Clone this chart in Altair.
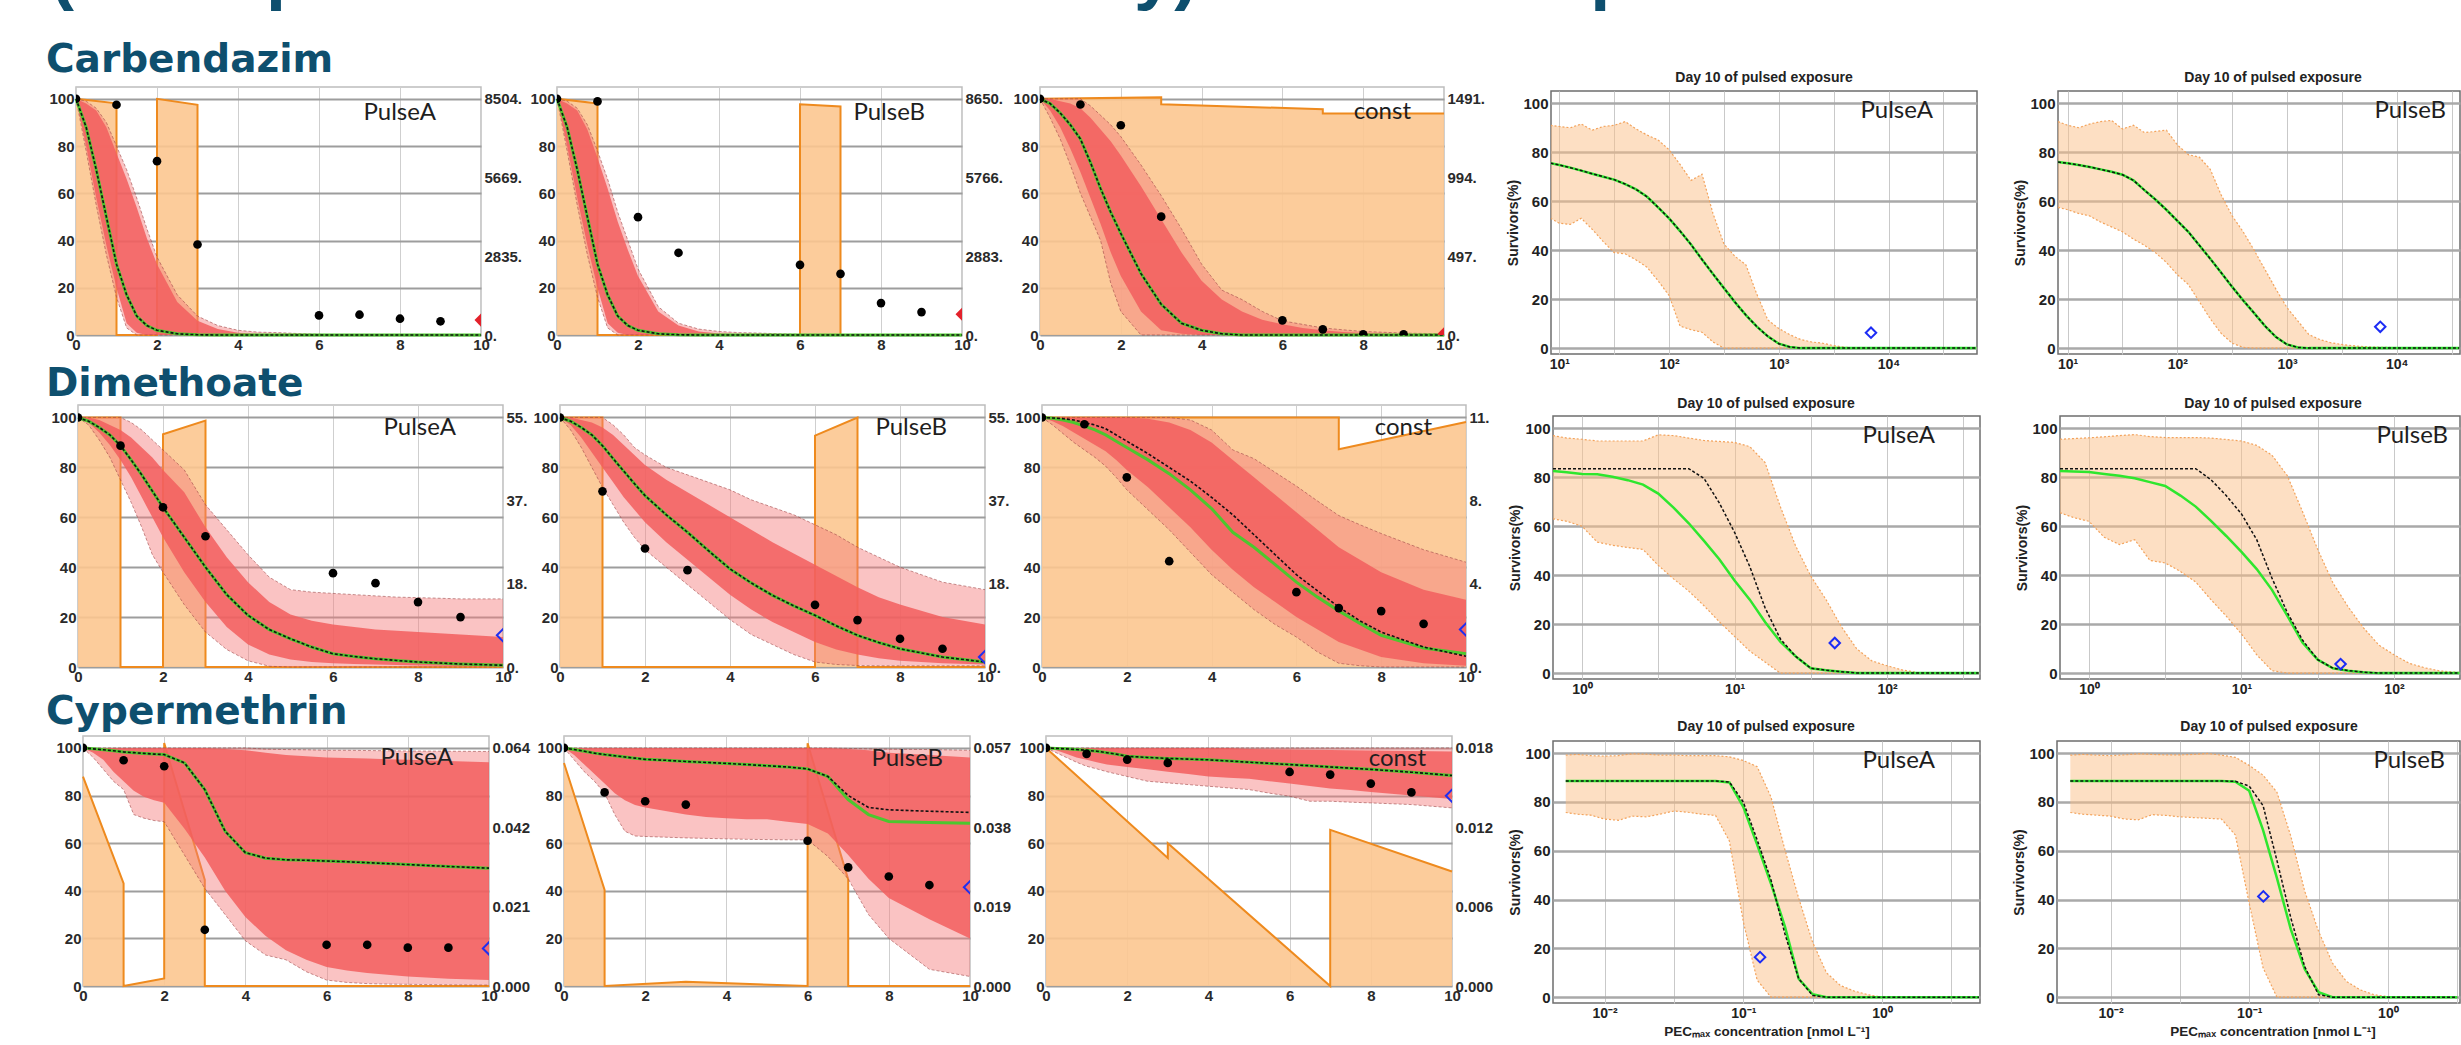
import altair as alt
import pandas as pd

# ----------------------------------------------------------------- texts
TITLE_TEXT = "(Example of TKTD model toxicity) with the exposure"
ROW_NAMES = ["Carbendazim", "Dimethoate", "Cypermethrin"]
DOSE_TITLE = "Day 10 of pulsed exposure"
SURV_TITLE = "Survivors(%)"
CONC_TITLE = "PECₘₐₓ concentration [nmol L⁻¹]"

# ----------------------------------------------------------------- time-course data
T = [0, 0.25, 0.5, 0.75, 1, 1.25, 1.5, 1.75, 2, 2.5, 3, 3.5, 4, 4.5, 5, 5.5, 6, 6.5, 7, 7.5, 8, 9, 10]
OBS_T = [0, 1, 2, 3, 6, 7, 8, 9]
X_TICKS = [0, 2, 4, 6, 8, 10]
Y_TICKS = [0, 20, 40, 60, 80, 100]

# Carbendazim PulseA
carbA_med = [100, 88, 70, 50, 30, 17, 8, 4, 2, 0.5, 0.1] + [0] * 12
carbA_lo_out = [100, 78, 55, 34, 16, 3] + [0] * 17
carbA_hi_out = [100, 99, 96, 90, 80, 70, 58, 45, 33, 17, 8, 4, 2, 1.2, 1, 0.6, 0.3, 0.1] + [0] * 5
carbA_lo_in = [100, 80, 58, 38, 20, 5, 1] + [0] * 16
carbA_hi_in = [100, 98, 95, 88, 77, 66, 54, 41, 30, 14, 6, 2.5, 1, 0.4] + [0] * 9
carbA_obs = [100, 97.5, 73.6, 38.3, 8.3, 8.6, 6.9, 5.8]
carbA_day10 = 6.3
carbA_exp_t = [0, 1, 1, 2, 2, 3, 3, 10]
carbA_exp_v = [8504, 8340, 0, 0, 8504, 8290, 0, 0]
carbA_exp_ticks = ["0.", "2835.", "5669.", "8504."]

# Carbendazim PulseB
carbB_med = [100, 88, 70, 50, 30, 17, 8, 4, 2, 0.5, 0.1] + [0] * 12
carbB_lo_out = [100, 78, 55, 34, 16, 3] + [0] * 17
carbB_hi_out = [100, 99, 96, 89, 78, 66, 52, 40, 28, 12, 5, 2.5, 1.5, 1, 0.8, 0.5, 0.3, 0.25, 0.2, 0.1] + [0] * 3
carbB_lo_in = [100, 80, 58, 38, 20, 5, 1] + [0] * 16
carbB_hi_in = [100, 98, 95, 87, 75, 62, 48, 36, 25, 10, 4, 1.5, 0.6, 0.3] + [0] * 9
carbB_obs = [100, 98.9, 49.9, 34.8, 29.7, 25.9, 13.5, 9.7]
carbB_day10 = 8.8
carbB_exp_t = [0, 1, 1, 6, 6, 7, 7, 10]
carbB_exp_v = [8650, 8480, 0, 0, 8450, 8370, 0, 0]
carbB_exp_ticks = ["0.", "2883.", "5766.", "8650."]

# Carbendazim const
carbC_med = [100, 98, 94, 89, 83, 73, 62, 52, 43, 26, 13, 5, 2, 0.5] + [0] * 9
carbC_lo_out = [100, 92, 83, 72, 60, 50, 40, 22, 10] + [0] * 14
carbC_hi_out = [100, 100, 100, 100, 100, 97, 93, 89, 84, 72, 59, 45, 30, 19, 15, 10, 6, 4.5, 3, 2.2, 1.5, 0.8, 0.5]
carbC_lo_in = [100, 95, 88, 79, 69, 58, 47, 35, 25, 10, 2, 0.5] + [0] * 11
carbC_hi_in = [100, 100, 99, 98, 96, 92, 87, 82, 76, 63, 49, 35, 23, 15, 10, 6.5, 4.5, 3, 2, 1.3, 0.8, 0.3, 0.1]
carbC_obs = [100, 97.6, 88.8, 50.1, 6.2, 2.4, 0.3, 0.3]
carbC_day10 = 0.5
carbC_exp_t = [0, 3, 3, 7, 7, 10]
carbC_exp_v = [1491, 1500, 1457, 1425, 1399, 1399]
carbC_exp_ticks = ["0.", "497.", "994.", "1491."]

# Dimethoate PulseA
dimA_med = [100, 98.5, 96, 93, 88.7, 83, 77, 70.5, 64, 52, 40, 29, 20.7, 15, 11.3, 8, 5.3, 4.2, 3.3, 2.6, 2, 1.2, 0.7]
dimA_lo_out = [100, 97, 91, 84, 75, 66, 56, 45, 38, 25, 14, 7, 2.5, 0.3] + [0] * 9
dimA_hi_out = [100, 100, 100, 100, 100, 98, 95, 91, 87, 79, 65, 55, 45, 36, 31, 30, 29.5, 29, 28.5, 28, 27.8, 27.3, 27.3]
dimA_lo_in = [100, 98, 94, 89, 83, 76, 68, 60, 52, 38, 26, 16, 9, 5, 3, 2, 1.5, 1.2, 1, 0.8, 0.6, 0.4, 0.3]
dimA_hi_in = [100, 100, 99, 97, 95, 92, 88, 84, 79, 70, 56, 44, 34, 26, 21, 18.5, 17, 16, 15, 14.5, 14, 13, 12]
dimA_obs = [100, 88.7, 64, 52.4, 37.6, 33.6, 26, 20]
dimA_day10 = 12.7
dimA_exp_t = [0, 1, 1, 2, 2, 3, 3, 10]
dimA_exp_v = [55, 55, 0, 0, 51.3, 54.3, 0, 0]
dimA_exp_ticks = ["0.", "18.", "37.", "55."]

# Dimethoate PulseB
dimB_med = [100, 98.5, 96, 93, 88.7, 83.5, 78.5, 73.5, 68.7, 61, 54, 46.5, 39.3, 33.7, 28.7, 24.5, 20.7, 16.5, 12.7, 9.8, 7.3, 4, 2]
dimB_lo_out = [100, 95, 88, 80, 72, 65, 58, 52, 47, 40, 33, 26, 19, 13, 9, 5, 2, 1, 0.6, 0.5, 0.5, 0.5, 0.5]
dimB_hi_out = [100, 100, 100, 100, 100, 97, 93, 88, 85, 80, 77, 74, 71, 67, 64, 61, 57, 53, 48, 44, 40, 34, 31]
dimB_lo_in = [100, 97, 92, 86, 80, 74, 68, 63, 58, 50, 43, 36, 29, 23, 18, 14, 10, 7, 5, 3.5, 2.5, 1.5, 1]
dimB_hi_in = [100, 100, 99, 98, 96, 93, 89, 85, 81, 75, 70, 65, 60, 55, 50, 45.5, 41, 36.5, 32, 28, 25, 20, 17]
dimB_obs = [100, 70.4, 47.5, 38.8, 24.9, 18.8, 11.3, 7.3]
dimB_day10 = 4
dimB_exp_t = [0, 1, 1, 6, 6, 7, 7, 10]
dimB_exp_v = [55, 55, 0, 0, 51, 55, 0, 0]
dimB_exp_ticks = ["0.", "18.", "37.", "55."]

# Dimethoate const
dimC_med = [100, 99.7, 99, 98, 96.5, 95, 93, 90.5, 88, 83, 77.5, 71, 63.5, 54, 48, 41, 34, 28, 22.5, 17.5, 12.7, 7.6, 5.3]
dimC_dash = [100, 99.8, 99.5, 99, 98, 97, 95.5, 93, 90.5, 85.5, 80, 74.5, 68, 61, 53, 45, 37, 30.5, 24, 18.5, 14, 8, 4.3]
dimC_lo_out = [100, 97, 93.5, 90, 87, 84, 80.5, 76, 71, 63, 55, 46, 37, 30, 23, 17, 12, 6, 1.5, 0.5, 0, 0, 0]
dimC_hi_out = [100, 100, 100, 100, 100, 100, 100, 100, 100, 100, 100, 99, 95, 87, 83.5, 78, 72.5, 66.5, 60.7, 57, 53.5, 47, 42]
dimC_lo_in = [100, 98.5, 96.5, 94, 91.5, 89, 86.5, 83, 79, 72, 64, 56, 47, 39, 32, 26, 20, 15, 10, 7, 4, 1.5, 0.5]
dimC_hi_in = [100, 100, 100, 100, 100, 100, 100, 100, 100, 99.5, 98, 95, 90, 83, 76, 69, 62, 55, 48, 43, 38, 31, 27]
dimC_obs = [100, 97.3, 76, 42.4, 30, 23.6, 22.4, 17.3]
dimC_day10 = 15
dimC_exp_t = [0, 7, 7, 10]
dimC_exp_v = [11, 11, 9.6, 10.8]
dimC_exp_ticks = ["0.", "4.", "8.", "11."]

# Cypermethrin PulseA
cypA_med = [100, 99.6, 99.2, 98.8, 98.3, 98, 97.7, 97.4, 97.2, 93.7, 82.5, 65, 56, 53.7, 53, 52.8, 52.5, 52.2, 51.8, 51.4, 51, 50.2, 49.5]
cypA_lo_out = [100, 96, 91, 86, 82.5, 72, 70.5, 69.5, 69, 55, 41, 30, 19, 13, 11, 6, 2.5, 1.5, 1, 0.8, 0.7, 0.5, 0.4]
cypA_hi_out = [100] * 13 + [99.5, 99.3, 99.2, 99, 99, 98.9, 98.8, 98.7, 98.6, 98.5]
cypA_lo_in = [100, 98, 95, 90, 86, 82, 79.5, 78, 77, 66, 54, 40, 29, 21, 15, 11, 8, 6.5, 5.5, 4.7, 4, 3, 2.5]
cypA_hi_in = [100] * 11 + [99.5, 99, 98, 97, 96.5, 96, 95.8, 95.5, 95.2, 95, 94.5, 94]
cypA_obs = [100, 94.8, 92.3, 23.6, 17.3, 17.3, 16.1, 16.1]
cypA_day10 = 15.8
cypA_exp_t = [0, 1, 1, 2, 2, 3, 3, 10]
cypA_exp_v = [0.0563, 0.0276, 0, 0.00205, 0.0653, 0.0285, 0, 0]
cypA_exp_ticks = ["0.000", "0.021", "0.042", "0.064"]

# Cypermethrin PulseB
cypB_med = [100, 99.3, 98.6, 97.8, 97.2, 96.7, 96.2, 95.7, 95.2, 94.8, 94.3, 93.9, 93.5, 93, 92.5, 92, 91.2, 88, 78.3, 72, 69.1, 68.7, 68.4]
cypB_dash = [100, 99.3, 98.6, 97.8, 97.2, 96.7, 96.2, 95.7, 95.2, 94.8, 94.3, 93.9, 93.5, 93, 92.5, 92, 91.2, 88, 80, 75, 74, 73.4, 72.9]
cypB_lo_out = [100, 95, 90, 86, 81, 72, 65, 63, 62.8, 62.5, 62.2, 62, 61.8, 61.6, 61.5, 61.4, 61.4, 54.4, 45, 30, 20, 7, 4]
cypB_hi_out = [100] * 18 + [99.8, 99.6, 99.5, 99.3, 99]
cypB_lo_in = [100, 97, 93, 89, 85, 81, 78, 76, 75, 73.5, 72, 71, 70.5, 70, 70, 69, 68, 64, 55, 45, 37, 28, 20]
cypB_hi_in = [100] * 18 + [99.5, 99, 98, 97, 96]
cypB_obs = [100, 81.3, 77.6, 76.2, 61, 49.8, 46, 42.4]
cypB_day10 = 41.5
cypB_exp_t = [0, 1, 1, 3, 6, 6, 7, 7, 10]
cypB_exp_v = [0.0534, 0.0230, 0, 0.001, 0, 0.0581, 0.0255, 0, 0]
cypB_exp_ticks = ["0.000", "0.019", "0.038", "0.057"]

# Cypermethrin const
cypC_med = [100, 99.8, 99.6, 99.3, 99, 98.6, 98, 97.3, 96.5, 96, 95.6, 95.3, 95, 94.5, 94, 93.5, 93, 92.5, 92, 91.5, 91, 89.8, 88.4]
cypC_lo_out = [100, 98, 96, 94, 92.3, 91.2, 90, 89, 88, 86, 85.3, 84.6, 83.9, 83.2, 82.5, 81, 79.7, 77.6, 77.6, 77.2, 76.9, 76.2, 74.8]
cypC_hi_out = [100] * 23
cypC_lo_in = [100, 99, 97.5, 96, 95, 94, 93, 92.5, 92, 91, 90, 89, 88, 87.5, 87, 86, 85, 84, 83, 82.3, 81.5, 80, 78.5]
cypC_hi_in = [100] * 14 + [99.5, 99.4, 99.3, 99.2, 99.1, 99, 98.9, 98.7, 98.5]
cypC_obs = [100, 97.5, 95.1, 93.7, 89.9, 88.8, 85, 81.3]
cypC_day10 = 79.9
cypC_exp_t = [0, 3, 3, 7, 7, 10]
cypC_exp_v = [0.018, 0.00967, 0.0108, 0, 0.0118, 0.00866]
cypC_exp_ticks = ["0.000", "0.006", "0.012", "0.018"]

# ----------------------------------------------------------------- dose-response data (log10 concentration)
carbDA_lg = [0.92, 1.0, 1.1, 1.2, 1.3, 1.4, 1.5, 1.6, 1.7, 1.8, 1.9, 2.0, 2.1, 2.2, 2.3, 2.4, 2.5, 2.6, 2.7, 2.8,
             2.9, 3.0, 3.1, 3.2, 3.3, 3.4, 3.5, 3.6, 3.7, 3.8, 4.0, 4.2, 4.4, 4.6, 4.8]
carbDA_med = [75.5, 74.8, 73.7, 72.5, 71.2, 70, 68.8, 67, 64.8, 61.8, 57.5, 53, 47.8, 42.3, 36.2, 30.3, 24.5, 18.8,
              13.5, 8.8, 4.8, 1.8, 0.5] + [0] * 12
carbDA_hi = [91, 90.5, 90, 91.5, 89, 90.5, 91, 92.5, 89.5, 87, 85, 81, 75, 68.5, 71, 55, 42.5, 37.5, 34, 22,
             11.5, 8, 5.5, 3.5, 2.5, 2, 1, 0.4] + [0] * 7
carbDA_lo = [53, 51, 50.5, 53, 48.5, 43.5, 39, 38.5, 36, 33, 27.5, 21.5, 9, 7.5, 6.5, 2.5] + [0] * 19
carbDA_obs = (3.84, 6.3)

carbDB_lg = [0.912, 1.0, 1.1, 1.2, 1.3, 1.4, 1.5, 1.6, 1.7, 1.8, 1.9, 2.0, 2.1, 2.2, 2.3, 2.4, 2.5, 2.6, 2.7, 2.8,
             2.9, 3.0, 3.1, 3.2, 3.3, 3.4, 3.5, 3.6, 3.7, 3.8, 4.0, 4.2, 4.4, 4.57]
carbDB_med = [76, 75.5, 74.8, 74, 73, 72, 70.8, 68.5, 64.5, 60.7, 56.5, 52, 47.5, 42, 36.5, 30.8, 25, 19.5, 14.3,
              9, 4.5, 1.5, 0.3] + [0] * 11
carbDB_hi = [92.5, 91, 90, 91.5, 92.5, 93, 89.5, 91, 88, 88.5, 89, 83, 79, 78, 73, 62.5, 54, 47.5, 40, 32,
             24, 16.5, 11, 5.5, 3.5, 2.2, 1.5, 1, 0.6, 0.4, 0.2, 0, 0, 0]
carbDB_lo = [57.5, 56.5, 55, 54, 51.5, 49.5, 47.5, 44.5, 42, 39, 35, 30, 26, 19, 12, 6, 2, 0.3] + [0] * 16
carbDB_obs = (3.85, 8.7)

dimDA_lg = [-0.19, -0.1, 0.0, 0.1, 0.2, 0.3, 0.4, 0.5, 0.6, 0.7, 0.8, 0.9, 1.0, 1.1, 1.2, 1.3, 1.4, 1.5, 1.6, 1.7,
            1.8, 1.9, 2.0, 2.1, 2.2, 2.3, 2.4, 2.5, 2.6]
dimDA_med = [82.5, 82, 81.3, 81.2, 80.2, 78.8, 77, 73.3, 67.6, 61.2, 54, 46.5, 37.8, 30, 20.9, 12.8, 6.9, 2, 1.2,
             0.6, 0.1] + [0] * 8
dimDA_dash = [83.5] * 10 + [79.5, 69.5, 57.5, 43.5, 26.7, 14, 6.9, 2, 1.2, 0.6, 0.1] + [0] * 8
dimDA_hi = [97, 96, 95.5, 94.8, 94.8, 94.8, 94.8, 97.3, 97, 96, 95, 94.6, 94.2, 92.5, 86, 68, 52, 39.6, 30, 19,
            10, 5, 3, 1.3, 0.2, 0, 0, 0, 0]
dimDA_lo = [63, 62, 60, 53.5, 52.2, 51.3, 50.5, 44, 38.5, 33.5, 27.5, 21, 15, 9, 4.5] + [0] * 14
dimDA_obs = (1.657, 12.3)

dimDB_lg = [-0.19, -0.1, 0.0, 0.1, 0.2, 0.3, 0.4, 0.5, 0.6, 0.7, 0.8, 0.9, 1.0, 1.1, 1.2, 1.3, 1.4, 1.5, 1.6, 1.7,
            1.8, 1.9, 2.0, 2.1, 2.2, 2.3, 2.4, 2.43]
dimDB_med = [82.5, 82.3, 82.1, 81.3, 80.6, 79.6, 78, 76.4, 72.5, 68, 62.2, 56, 49.5, 42.5, 34, 23.5, 12.5, 5.5, 2,
             1, 0.4] + [0] * 7
dimDB_dash = [83.5] * 10 + [79, 72.5, 65, 54.5, 38.8, 24.8, 13.5, 5.5, 2, 1, 0.4] + [0] * 7
dimDB_hi = [95.5, 95.8, 96.1, 96.5, 97, 97.4, 96.6, 96.2, 96.2, 96.2, 96, 95.4, 94.8, 93, 89, 80.7, 66, 50.5,
            36.8, 27, 18.5, 11.5, 7.5, 4, 2.2, 0.9, 0.4, 0.3]
dimDB_lo = [65.5, 63.5, 62, 55.5, 52.5, 54.5, 46, 45, 41.5, 37.2, 30, 23.3, 16, 7.5, 1] + [0] * 13
dimDB_obs = (1.65, 3.7)

cypDA_lg = [-2.28, -2.2, -2.1, -2.0, -1.9, -1.8, -1.7, -1.6, -1.5, -1.4, -1.3, -1.2, -1.1, -1.0, -0.9, -0.8, -0.7,
            -0.6, -0.5, -0.4, -0.3, -0.2, -0.1, 0.0, 0.1, 0.2, 0.3, 0.4, 0.5, 0.6, 0.7]
cypDA_med = [88.6] * 12 + [88, 78, 62.5, 46.5, 29, 7.5, 1.2] + [0] * 12
cypDA_dash = [88.6] * 12 + [88.2, 80, 64.5, 48, 26, 7.5, 0.7] + [0] * 12
cypDA_hi = [99.2, 99.5, 99, 98.8, 99, 99.8, 99.6, 99.2, 99.2, 99, 99, 99, 98.5, 97, 94.5, 82, 60.5, 40.5, 22.5,
            10, 4.8, 2.5, 1] + [0] * 8
cypDA_lo = [75.7, 75, 74.6, 73, 72.5, 74.2, 73.9, 75, 76.3, 75.8, 75, 74.5, 64, 31, 7] + [0] * 16
cypDA_obs = (-0.879, 16.4)

cypDB_lg = [-2.29, -2.2, -2.1, -2.0, -1.9, -1.8, -1.7, -1.6, -1.5, -1.4, -1.3, -1.2, -1.1, -1.0, -0.9, -0.8, -0.7,
            -0.6, -0.5, -0.4, -0.3, -0.2, -0.1, 0.0, 0.1, 0.2, 0.3, 0.4, 0.5]
cypDB_med = [88.6] * 12 + [88.3, 84.6, 68.5, 48.8, 27.8, 11.5, 2] + [0] * 10
cypDB_dash = [88.6] * 12 + [88.5, 86.5, 78.5, 56, 32.5, 12.5, 1] + [0] * 10
cypDB_hi = [99.2, 99.5, 99.2, 99, 99.3, 99.8, 99.5, 99.3, 99.3, 99.5, 99.9, 99.2, 98.3, 95, 91, 84, 66, 43.5, 27,
            14, 6.5, 3, 1, 0.2] + [0] * 5
cypDB_lo = [75.7, 75, 74.6, 74.2, 73, 72.7, 74.8, 74.5, 73.9, 73.6, 73.3, 73, 66.5, 38.5, 12] + [0] * 14
cypDB_obs = (-0.898, 41.3)

DOSE_TICKS_LG = [[1, 1.5, 2, 2.5, 3, 3.5, 4, 4.5], [0, 0.5, 1, 1.5, 2, 2.5], [-2, -1.5, -1, -0.5, 0, 0.5]]
DOSE_TICK_LABELS = [["10¹", "", "10²", "", "10³", "", "10⁴", ""],
                    ["10⁰", "", "10¹", "", "10²", ""],
                    ["10⁻²", "", "10⁻¹", "", "10⁰", ""]]

# ----------------------------------------------------------------- styling / layout
TEAL = "#0e4f6e"
TICK_FONT = "Liberation Sans, Arial, sans-serif"
LBL_FONT = "Lato, Open Sans, sans-serif"
HEAD_FONT = "DejaVu Sans, Verdana, sans-serif"
TOTAL_W = 2461
TOP_H = 86
TITLE_BASE = -4
LEFT_W = 1500
RIGHT_W = TOTAL_W - LEFT_W
TIME_W = [[405, 405, 404], [425, 425, 424], [406, 406, 406]]
TIME_H = [248, 262, 250]
TIME_GAPS = [[76, 76, 78], [78, 57, 57], [83, 75, 76]]
TIME_SPAN = [317, 330, 270]
TIME_LAB = [[(360, 33), (368, 33), (371, 32)], [(378, 30), (387, 30), (390, 30)], [(370, 29), (379, 30), (380, 30)]]
ROW_LABEL_X = 46
ROW_LABEL_BASE = [72, 309, 319]      # first in the top strip, others inside the spacer above
DOSE_W = [[426, 402], [427, 400], [427, 403]]
DOSE_H = [263, 263, 262]
DOSE_GAPS = [[51, 81], [53, 80], [53, 77]]
DOSE_SPAN = [324, 324, 304]
DOSE_PRE = 3
DOSE_TITLE_POS = [[(1764, 82), (2273, 82)], [(266, 317), (773, 317)], [(266, 315), (769, 315)]]
DOSE_DOM = [[(0.924, 4.806), (0.912, 4.577)], [(-0.19, 2.609), (-0.19, 2.433)], [(-2.372, 0.707), (-2.386, 0.52)]]
DOSE_FULLW = 427


def label_expr(vals, labels):
    expr = "''"
    for v, lab in reversed(list(zip(vals, labels))):
        tol = abs(v) * 1e-6 + 1e-9
        expr = f"(abs(datum.value - {v!r}) < {tol!r}) ? '{lab}' : {expr}"
    return expr


def text_layer(text, x, y, size, font, color, weight="bold", align="left", clip=False):
    return alt.Chart(pd.DataFrame({"label": [text]})).mark_text(
        align=align, baseline="alphabetic", font=font, fontSize=size, fontWeight=weight,
        color=color, clip=clip
    ).encode(text="label:N", x=alt.value(x), y=alt.value(y))


def spacer(w, h, texts=None):
    view = alt.ViewBackground(stroke="transparent", strokeWidth=0)
    if texts:
        return alt.layer(*texts).properties(width=w, height=h, view=view)
    return alt.Chart(pd.DataFrame({"a": [0]})).mark_point(opacity=0, size=1, strokeWidth=0).encode(
        x=alt.value(w / 2), y=alt.value(h / 2)).properties(width=w, height=h, view=view)


def time_panel(med, dash, lo_out, hi_out, lo_in, hi_in, obs, day10, exp_t, exp_v, exp_ticks,
               label, red_marker, width, height, lab_x, lab_y):
    df = pd.DataFrame({"t": T, "med": med, "dash": dash, "lo_out": lo_out, "hi_out": hi_out,
                       "lo_in": lo_in, "hi_in": hi_in})
    xs = alt.Scale(domain=[0, 10], nice=False, zero=False)
    ys = alt.Scale(domain=[0, 105], nice=False, zero=False)
    x_axis = alt.Axis(values=X_TICKS, grid=True, gridColor="#cfcfcf", gridWidth=1, ticks=False, domain=False,
                      labelFont=TICK_FONT, labelFontSize=15, labelFontWeight="bold", labelColor="#2a2a2a",
                      labelPadding=2, labelFlush=False, labelOverlap=False, title=None)
    y_axis = alt.Axis(values=Y_TICKS, grid=True, gridColor="#9d9d9d", gridWidth=2, ticks=False, domain=False,
                      labelFont=TICK_FONT, labelFontSize=15, labelFontWeight="bold", labelColor="#2a2a2a",
                      labelPadding=2, labelFlush=False, labelOverlap=False, title=None)
    X = alt.X("t:Q", scale=xs, axis=x_axis)

    def Y(f):
        return alt.Y(f + ":Q", scale=ys, axis=y_axis, stack=None)

    top = float(exp_ticks[-1].rstrip("."))
    rvals = [0, top / 3, 2 * top / 3, top]
    r_axis = alt.Axis(orient="right", values=rvals, labelExpr=label_expr(rvals, exp_ticks), grid=False,
                      ticks=False, domain=False, labelFont=TICK_FONT, labelFontSize=15, labelFontWeight="bold",
                      labelColor="#2a2a2a", labelPadding=3, labelFlush=False, labelOverlap=False, title=None)
    exp = alt.Chart(pd.DataFrame({"t": exp_t, "v": exp_v})).mark_area(
        color="#fcc690", opacity=0.9,
        line=alt.OverlayMarkDef(color="#ee8a1e", strokeWidth=2, opacity=1)
    ).encode(x=X, y=alt.Y("v:Q", stack=None, scale=alt.Scale(domain=[0, top * 1.05], nice=False, zero=False),
                          axis=r_axis))

    base = alt.Chart(df)
    band_out = base.mark_area(color="#f47a7a", opacity=0.45).encode(x=X, y=Y("lo_out"), y2="hi_out")
    band_in = base.mark_area(color="#f25e5e", opacity=0.85).encode(x=X, y=Y("lo_in"), y2="hi_in")
    lo_line = base.mark_line(color="#a04848", strokeDash=[3, 2], strokeWidth=1, opacity=0.6).encode(
        x=X, y=Y("lo_out"))
    hi_line = base.mark_line(color="#a04848", strokeDash=[3, 2], strokeWidth=1, opacity=0.6).encode(
        x=X, y=Y("hi_out"))
    med_line = base.mark_line(color="#4cc72e", strokeWidth=3).encode(x=X, y=Y("med"))
    dash_line = base.mark_line(color="#111111", strokeDash=[3, 2], strokeWidth=1.6).encode(x=X, y=Y("dash"))
    dots = alt.Chart(pd.DataFrame({"t": OBS_T, "s": obs})).mark_circle(
        size=75, color="black", opacity=1, clip=True).encode(x=X, y=Y("s"))
    if red_marker:
        mk = alt.Chart(pd.DataFrame({"t": [10], "s": [day10]})).mark_point(
            shape="diamond", size=170, filled=True, color="#e3212b", opacity=1, clip=True)
    else:
        mk = alt.Chart(pd.DataFrame({"t": [10], "s": [day10]})).mark_point(
            shape="diamond", size=150, filled=False, color="#1f2ff0", strokeWidth=2, opacity=1, clip=True)
    mk = mk.encode(x=X, y=Y("s"))
    lab = text_layer(label, lab_x, lab_y, 24, LBL_FONT, "#1e1e1e", weight="normal", align="right")
    surv = alt.layer(band_out, band_in, lo_line, hi_line, med_line, dash_line, dots, mk, lab)
    return alt.layer(exp, surv).resolve_scale(y="independent").properties(
        width=width, height=height, view=alt.ViewBackground(stroke="#bdbdbd", strokeWidth=1.5))


def dose_panel(lg, med, dash, lo, hi, obs, dom, ticks_lg, tick_labels, label, width, height,
               lab_x, lab_y, with_xtitle, clipped):
    conc = [10 ** v for v in lg]
    df = pd.DataFrame({"c": conc, "med": med, "dash": dash, "lo": lo, "hi": hi})
    xs = alt.Scale(type="log", domain=[10 ** dom[0], 10 ** dom[1]], nice=False)
    ys = alt.Scale(domain=[-2.4, 105], nice=False, zero=False)
    tv = [10 ** v for v in ticks_lg if dom[0] <= v <= dom[1]]
    tl = [l for v, l in zip(ticks_lg, tick_labels) if dom[0] <= v <= dom[1]]
    xkw = dict(values=tv, labelExpr=label_expr(tv, tl), grid=True, gridColor="#c9c9c9", gridWidth=1,
               ticks=False, domain=False, labelFont=TICK_FONT, labelFontSize=14, labelFontWeight="bold",
               labelColor="#222222", labelPadding=3, labelFlush=False, labelOverlap=False)
    if with_xtitle:
        xkw.update(title=CONC_TITLE, titleFont=TICK_FONT, titleFontSize=13.5, titleFontWeight="bold",
                   titleColor="#222222", titlePadding=4)
        if clipped:
            xkw.update(titleX=DOSE_FULLW / 2 + 2, titleAlign="center")
    else:
        xkw.update(title=None)
    x_axis = alt.Axis(**xkw)
    y_axis = alt.Axis(values=Y_TICKS, grid=True, gridColor="#a9a9a9", gridWidth=2.5, ticks=False, domain=False,
                      labelFont=TICK_FONT, labelFontSize=15, labelFontWeight="bold", labelColor="#222222",
                      labelPadding=3, labelFlush=False, labelOverlap=False, title=SURV_TITLE,
                      titleFont=TICK_FONT, titleFontSize=14, titleFontWeight="bold", titleColor="#222222",
                      titlePadding=2)
    X = alt.X("c:Q", scale=xs, axis=x_axis)

    def Y(f):
        return alt.Y(f + ":Q", scale=ys, axis=y_axis, stack=None)

    base = alt.Chart(df)
    band = base.mark_area(color="#fbbf88", opacity=0.5, clip=True).encode(x=X, y=Y("lo"), y2="hi")
    lo_l = base.mark_line(color="#f3a35c", strokeDash=[2, 2], strokeWidth=1.2, clip=True).encode(x=X, y=Y("lo"))
    hi_l = base.mark_line(color="#f3a35c", strokeDash=[2, 2], strokeWidth=1.2, clip=True).encode(x=X, y=Y("hi"))
    med_l = base.mark_line(color="#2ee62e", strokeWidth=2.5, clip=True).encode(x=X, y=Y("med"))
    dash_l = base.mark_line(color="#111111", strokeDash=[3, 2], strokeWidth=1.5, clip=True).encode(
        x=X, y=Y("dash"))
    dia = alt.Chart(pd.DataFrame({"c": [10 ** obs[0]], "s": [obs[1]]})).mark_point(
        shape="diamond", size=110, filled=False, color="#1c2cf5", strokeWidth=2, opacity=1
    ).encode(x=X, y=Y("s"))
    lab = text_layer(label, lab_x, lab_y, 24, LBL_FONT, "#1e1e1e", weight="normal", align="right")
    return alt.layer(band, lo_l, hi_l, med_l, dash_l, dia, lab).properties(
        width=width, height=height, view=alt.ViewBackground(stroke="#6e6e6e", strokeWidth=1.5))


# ----------------------------------------------------------------- build panels
TIME_DATA = [
    [(carbA_med, carbA_med, carbA_lo_out, carbA_hi_out, carbA_lo_in, carbA_hi_in, carbA_obs, carbA_day10,
      carbA_exp_t, carbA_exp_v, carbA_exp_ticks, "PulseA", True),
     (carbB_med, carbB_med, carbB_lo_out, carbB_hi_out, carbB_lo_in, carbB_hi_in, carbB_obs, carbB_day10,
      carbB_exp_t, carbB_exp_v, carbB_exp_ticks, "PulseB", True),
     (carbC_med, carbC_med, carbC_lo_out, carbC_hi_out, carbC_lo_in, carbC_hi_in, carbC_obs, carbC_day10,
      carbC_exp_t, carbC_exp_v, carbC_exp_ticks, "const", True)],
    [(dimA_med, dimA_med, dimA_lo_out, dimA_hi_out, dimA_lo_in, dimA_hi_in, dimA_obs, dimA_day10,
      dimA_exp_t, dimA_exp_v, dimA_exp_ticks, "PulseA", False),
     (dimB_med, dimB_med, dimB_lo_out, dimB_hi_out, dimB_lo_in, dimB_hi_in, dimB_obs, dimB_day10,
      dimB_exp_t, dimB_exp_v, dimB_exp_ticks, "PulseB", False),
     (dimC_med, dimC_dash, dimC_lo_out, dimC_hi_out, dimC_lo_in, dimC_hi_in, dimC_obs, dimC_day10,
      dimC_exp_t, dimC_exp_v, dimC_exp_ticks, "const", False)],
    [(cypA_med, cypA_med, cypA_lo_out, cypA_hi_out, cypA_lo_in, cypA_hi_in, cypA_obs, cypA_day10,
      cypA_exp_t, cypA_exp_v, cypA_exp_ticks, "PulseA", False),
     (cypB_med, cypB_dash, cypB_lo_out, cypB_hi_out, cypB_lo_in, cypB_hi_in, cypB_obs, cypB_day10,
      cypB_exp_t, cypB_exp_v, cypB_exp_ticks, "PulseB", False),
     (cypC_med, cypC_med, cypC_lo_out, cypC_hi_out, cypC_lo_in, cypC_hi_in, cypC_obs, cypC_day10,
      cypC_exp_t, cypC_exp_v, cypC_exp_ticks, "const", False)],
]

DOSE_DATA = [
    [(carbDA_lg, carbDA_med, carbDA_med, carbDA_lo, carbDA_hi, carbDA_obs, "PulseA"),
     (carbDB_lg, carbDB_med, carbDB_med, carbDB_lo, carbDB_hi, carbDB_obs, "PulseB")],
    [(dimDA_lg, dimDA_med, dimDA_dash, dimDA_lo, dimDA_hi, dimDA_obs, "PulseA"),
     (dimDB_lg, dimDB_med, dimDB_dash, dimDB_lo, dimDB_hi, dimDB_obs, "PulseB")],
    [(cypDA_lg, cypDA_med, cypDA_dash, cypDA_lo, cypDA_hi, cypDA_obs, "PulseA"),
     (cypDB_lg, cypDB_med, cypDB_dash, cypDB_lo, cypDB_hi, cypDB_obs, "PulseB")],
]


def dose_title_texts(r):
    return [text_layer(DOSE_TITLE, x, y, 14, TICK_FONT, "#222222", align="center") for x, y in DOSE_TITLE_POS[r]]


# top strip: big (cropped) title, first row label, first dose titles
top_strip = spacer(TOTAL_W, TOP_H, [
    text_layer(TITLE_TEXT, 50, TITLE_BASE, 72, TICK_FONT, TEAL, clip=True),
    text_layer(ROW_NAMES[0], ROW_LABEL_X, ROW_LABEL_BASE[0], 39, HEAD_FONT, TEAL),
] + dose_title_texts(0))

# left block: rows of time-course panels; the label of the next row sits in the first spacer
left_rows = []
for r in range(3):
    span = TIME_SPAN[r]
    first_texts = None
    if r < 2:
        first_texts = [text_layer(ROW_NAMES[r + 1], ROW_LABEL_X, ROW_LABEL_BASE[r + 1], 39, HEAD_FONT, TEAL)]
    row = []
    used = 0
    for k in range(3):
        row.append(spacer(TIME_GAPS[r][k], span, first_texts if k == 0 else None))
        lx, ly = TIME_LAB[r][k]
        row.append(time_panel(*TIME_DATA[r][k], width=TIME_W[r][k], height=TIME_H[r], lab_x=lx, lab_y=ly))
        used += TIME_GAPS[r][k] + TIME_W[r][k]
    row.append(spacer(LEFT_W - used, span))
    left_rows.append(alt.hconcat(*row, spacing=0, bounds="flush"))
left_block = alt.vconcat(*left_rows, spacing=0, bounds="full")

# right block: dose-response panels; the titles of the next row sit in the first spacer
right_rows = [spacer(RIGHT_W, DOSE_PRE)]
for r in range(3):
    span = DOSE_SPAN[r]
    first_texts = dose_title_texts(r + 1) if r < 2 else None
    row = []
    used = 0
    for k in range(2):
        lg, med, dash, lo, hi, obs, lab = DOSE_DATA[r][k]
        w = DOSE_W[r][k]
        clipped = k == 1
        row.append(spacer(DOSE_GAPS[r][k], span, first_texts if k == 0 else None))
        row.append(dose_panel(lg, med, dash, lo, hi, obs, DOSE_DOM[r][k], DOSE_TICKS_LG[r],
                              DOSE_TICK_LABELS[r], lab, w, DOSE_H[r], 388 if clipped else 382, 27,
                              r == 2, clipped))
        used += DOSE_GAPS[r][k] + w
    row.append(spacer(RIGHT_W - used, span))
    right_rows.append(alt.hconcat(*row, spacing=0, bounds="flush"))
right_block = alt.vconcat(*right_rows, spacing=0, bounds="full")

chart = alt.vconcat(
    top_strip,
    alt.hconcat(left_block, right_block, spacing=0, bounds="full"),
    spacing=0, bounds="full"
).properties(padding=0).configure_view(stroke="transparent")

chart.save("out.html", embed_options={"renderer": "svg", "actions": False})
